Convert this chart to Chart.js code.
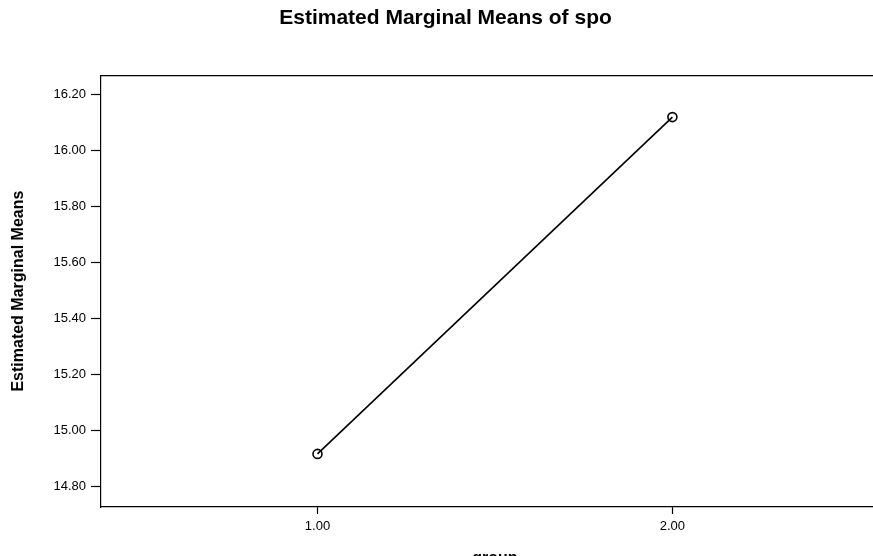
<!DOCTYPE html>
<html>
<head>
<meta charset="utf-8">
<script src="https://cdn.jsdelivr.net/npm/chart.js@4/dist/chart.umd.min.js"></script>
<style>
  html, body { margin: 0; padding: 0; background: #fff; overflow: hidden; }
  #wrap { width: 895px; height: 570px; }
</style>
</head>
<body>
<div id="wrap"><canvas id="myChart"></canvas></div>
<script>
// values
const groups = [1, 2];
const means = [14.915, 16.12];
const xTicks = [1, 2];
const yTicks = [14.8, 15.0, 15.2, 15.4, 15.6, 15.8, 16.0, 16.2];

const font = "'Liberation Sans', Arial, sans-serif";

// top line of the frame
const frameTop = {
  id: 'frameTop',
  afterDraw(chart) {
    const a = chart.chartArea, c = chart.ctx;
    c.save();
    c.strokeStyle = '#000';
    c.lineWidth = 1.2;
    c.beginPath();
    c.moveTo(a.left, a.top + 0.5);
    c.lineTo(a.right, a.top + 0.5);
    c.stroke();
    c.restore();
  }
};

const ctx = document.getElementById('myChart');

new Chart(ctx, {
  type: 'line',
  data: {
    datasets: [{
      data: groups.map((g, i) => ({ x: g, y: means[i] })),
      borderColor: '#000',
      borderWidth: 1.6,
      pointRadius: 4.5,
      pointBorderWidth: 1.6,
      pointBorderColor: '#000',
      pointBackgroundColor: 'rgba(0,0,0,0)',
      tension: 0
    }]
  },
  options: {
    responsive: true,
    maintainAspectRatio: false,
    animation: false,
    layout: { padding: { left: 0, right: 4, top: 0, bottom: 0 } },
    plugins: {
      legend: { display: false },
      tooltip: { enabled: false },
      title: {
        display: true,
        text: 'Estimated Marginal Means of spo',
        color: '#000',
        font: { family: font, size: 21, weight: 'bold' },
        padding: { top: 6, bottom: 44 }
      }
    },
    scales: {
      x: {
        type: 'linear',
        min: 0.39,
        max: 2.61,
        afterBuildTicks: s => { s.ticks = xTicks.map(v => ({ value: v })); },
        afterFit: s => { s.height = 63; },
        ticks: {
          color: '#000',
          font: { family: font, size: 13 },
          padding: 5,
          maxRotation: 0,
          callback: v => v.toFixed(2)
        },
        grid: { drawOnChartArea: false, tickLength: 7, color: '#000', tickWidth: 1.2 },
        border: { color: '#000', width: 1.2 },
        title: {
          display: true,
          text: 'group',
          color: '#000',
          font: { family: font, size: 16, weight: 'bold' },
          padding: { top: 0, bottom: 2 }
        }
      },
      y: {
        min: 14.725,
        max: 16.27,
        afterBuildTicks: s => { s.ticks = yTicks.map(v => ({ value: v })); },
        afterFit: s => { s.width = 101; },
        ticks: {
          color: '#000',
          font: { family: font, size: 13 },
          padding: 5,
          callback: v => v.toFixed(2)
        },
        grid: { drawOnChartArea: false, tickLength: 10, color: '#000', tickWidth: 1.2 },
        border: { color: '#000', width: 1.2 },
        title: {
          display: true,
          text: 'Estimated Marginal Means',
          color: '#000',
          font: { family: font, size: 16, weight: 'bold' },
          padding: { top: 9, bottom: 0 }
        }
      }
    }
  },
  plugins: [frameTop]
});
</script>
</body>
</html>
